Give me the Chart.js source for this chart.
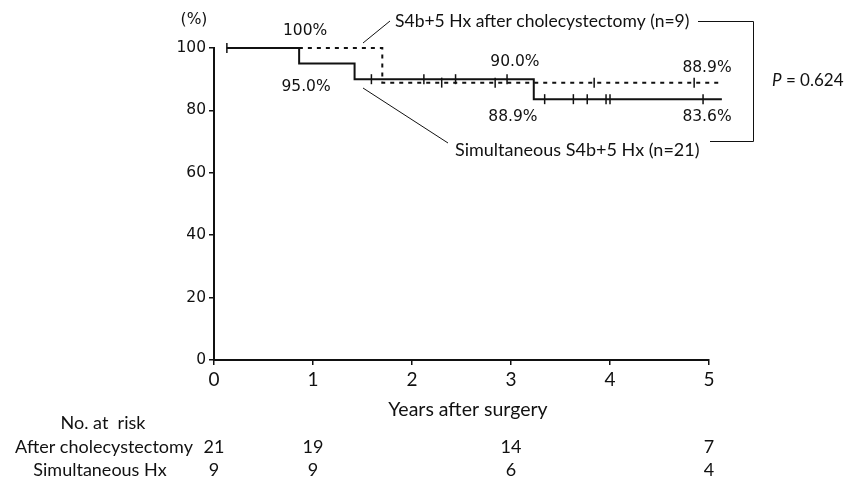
<!DOCTYPE html>
<html>
<head>
<meta charset="utf-8">
<title>Overall survival</title>
<script src="https://cdn.jsdelivr.net/npm/chart.js@4.4.1/dist/chart.umd.min.js"></script>
<style>
  body { margin: 0; background: #fff; }
</style>
</head>
<body>
<canvas id="kmChart" width="856" height="481"></canvas>
<script>
// Simultaneous S4b+5 Hx (n=21) - solid line
const simTimes = [0.13, 0.86, 1.42, 3.23, 5.13];
const simSurv = [100, 95.0, 90.0, 83.6, 83.6];
const simCensored = [0.13, 1.59, 2.12, 2.44, 2.96, 3.34, 3.63, 3.77, 3.96, 4.00, 4.94];

// S4b+5 Hx after cholecystectomy (n=9) - dotted line
const afterTimes = [0.13, 1.70, 5.12];
const afterSurv = [100, 88.9, 88.9];
const afterCensored = [2.30, 2.84, 3.84, 4.85];

// No. at risk
const riskYears = [0, 1, 3, 5];
const riskAfter = [21, 19, 14, 7];
const riskSim = [9, 9, 6, 4];

const yTicks = [0, 20, 40, 60, 80, 100];

const INK = '#111';
const CAL = 'Lato, "Open Sans", sans-serif';
const VER = '"DejaVu Sans", sans-serif';

function toPoints(times, surv) {
  return times.map((t, i) => ({ x: t, y: surv[i] }));
}

// survival value of the step curve at time t
function survAt(times, surv, t) {
  let s = surv[0];
  for (let i = 0; i < times.length; i++) {
    if (times[i] <= t) s = surv[i];
  }
  return s;
}

function censorPoints(cens, times, surv) {
  return cens.map(t => ({ x: t, y: survAt(times, surv, t) }));
}

const extras = {
  id: 'extras',
  afterDraw(chart) {
    const c = chart.ctx;
    const x = chart.scales.x;
    const y = chart.scales.y;
    c.save();
    c.fillStyle = INK;
    c.strokeStyle = INK;
    c.textBaseline = 'middle';

    // y unit
    c.font = '15.5px ' + VER;
    c.textAlign = 'center';
    c.fillText('(%)', 194, 20);

    // percentages next to the curves
    const notes = [
      ['100%', 0.92, 100, -17],
      ['95.0%', 0.93, 95.0, 23],
      ['90.0%', 3.04, 90.0, -17],
      ['88.9%', 4.98, 88.9, -15],
      ['88.9%', 3.02, 83.6, 18],
      ['83.6%', 4.98, 83.6, 18]
    ];
    notes.forEach(n => {
      c.fillText(n[0], x.getPixelForValue(n[1]), y.getPixelForValue(n[2]) + n[3]);
    });

    // curve labels and leader lines
    c.textAlign = 'left';
    c.font = '17.5px ' + CAL;
    c.fillText('S4b+5 Hx after cholecystectomy (n=9)', 395, 21);
    c.font = '18px ' + CAL;
    c.fillText('Simultaneous S4b+5 Hx (n=21)', 455, 150);

    c.lineWidth = 1;
    c.beginPath();
    c.moveTo(363, 43); c.lineTo(390, 21);
    c.moveTo(363, 88); c.lineTo(448, 143);
    // bracket for p value
    c.moveTo(698, 21.5); c.lineTo(753.5, 21.5); c.lineTo(753.5, 141.5); c.lineTo(710, 141.5);
    c.stroke();

    c.font = 'italic 17px ' + CAL;
    c.fillText('P', 772, 81);
    const pw = c.measureText('P').width;
    c.font = '17px ' + CAL;
    c.fillText(' = 0.624', 772 + pw, 81);

    // axis title
    c.textAlign = 'center';
    c.font = '19.5px ' + CAL;
    c.fillText('Years after surgery', 468, 410);

    // number at risk table
    c.font = '18px ' + CAL;
    c.fillText('No. at  risk', 103, 423);
    c.fillText('After cholecystectomy', 104, 447);
    c.fillText('Simultaneous Hx', 100, 470);
    riskYears.forEach((yr, i) => {
      const px = x.getPixelForValue(yr);
      c.fillText(String(riskAfter[i]), px, 447);
      c.fillText(String(riskSim[i]), px, 470);
    });
    c.restore();
  }
};

const ctx = document.getElementById('kmChart');

const kmChart = new Chart(ctx, {
  type: 'line',
  data: {
    datasets: [{
      label: 'Simultaneous S4b+5 Hx (n=21)',
      data: toPoints(simTimes, simSurv),
      stepped: 'before',
      borderColor: INK,
      borderWidth: 2,
      pointRadius: 0,
      fill: false,
      clip: false
    }, {
      label: 'Simultaneous censored',
      data: censorPoints(simCensored, simTimes, simSurv),
      showLine: false,
      pointStyle: 'line',
      rotation: 90,
      pointRadius: 5,
      borderColor: INK,
      borderWidth: 1.5,
      clip: false
    }, {
      label: 'S4b+5 Hx after cholecystectomy (n=9)',
      data: toPoints(afterTimes, afterSurv),
      stepped: 'before',
      borderColor: INK,
      borderWidth: 2,
      borderDash: [4, 5],
      pointRadius: 0,
      fill: false,
      clip: false
    }, {
      label: 'After cholecystectomy censored',
      data: censorPoints(afterCensored, afterTimes, afterSurv),
      showLine: false,
      pointStyle: 'line',
      rotation: 90,
      pointRadius: 5,
      borderColor: INK,
      borderWidth: 1.5,
      clip: false
    }]
  },
  options: {
    responsive: false,
    animation: false,
    devicePixelRatio: 1,
    layout: { padding: { left: 0, top: 48, right: 147, bottom: 91 } },
    plugins: {
      legend: { display: false },
      tooltip: { enabled: false }
    },
    scales: {
      x: {
        type: 'linear',
        min: 0,
        max: 5,
        ticks: { stepSize: 1, color: INK, padding: 3, font: { family: CAL, size: 19 } },
        grid: { drawOnChartArea: false, tickLength: 5, color: INK, lineWidth: 1.5 },
        border: { color: INK, width: 2 },
        afterFit(scale) { scale.height = 30; }
      },
      y: {
        min: 0,
        max: 100,
        afterBuildTicks(scale) { scale.ticks = yTicks.map(v => ({ value: v })); },
        ticks: { color: INK, padding: 3, font: { family: VER, size: 15.5 } },
        grid: { drawOnChartArea: false, tickLength: 5, color: INK, lineWidth: 1.5 },
        border: { color: INK, width: 2 },
        afterFit(scale) { scale.width = 214; }
      }
    }
  },
  plugins: [extras]
});
</script>
</body>
</html>
